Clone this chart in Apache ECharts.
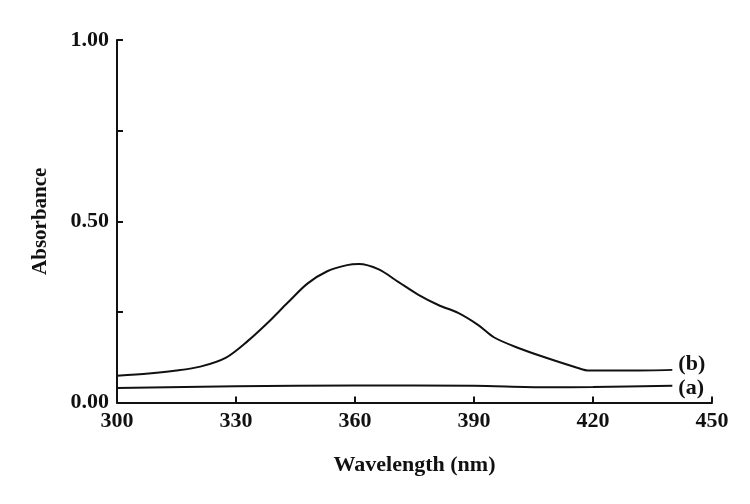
<!DOCTYPE html>
<html>
<head>
<meta charset="utf-8">
<script src="https://cdn.jsdelivr.net/npm/echarts@6/dist/echarts.min.js"></script>
<style>
    html, body { margin: 0; padding: 0; background: #fff; }
    #chart { width: 750px; height: 504px; }
</style>
</head>
<body>
<div id="chart"></div>
<script>
// 曲线 (b)
const wavelengthB = [300, 308, 315, 321, 327.5, 333, 338, 343, 348, 353, 358, 361, 366, 371, 376, 381, 386, 391, 395, 401, 408, 416, 419, 430, 440];
const absorbanceB = [0.074, 0.080, 0.088, 0.099, 0.124, 0.170, 0.220, 0.275, 0.328, 0.362, 0.379, 0.382, 0.367, 0.332, 0.297, 0.269, 0.247, 0.214, 0.180, 0.151, 0.124, 0.096, 0.088, 0.088, 0.090];
// 曲线 (a)
const wavelengthA = [300, 330, 360, 390, 408, 420, 440];
const absorbanceA = [0.040, 0.045, 0.047, 0.046, 0.042, 0.043, 0.046];
const seriesNames = ['(b)', '(a)'];

const font = 'Liberation Serif';
const chart = echarts.init(document.getElementById('chart'));

function pairs(xs, ys) {
    return xs.map((x, i) => [x, ys[i]]);
}

const lineStyle = { color: '#111', width: 2 };
function endLabel(dy) {
    return {
        show: true,
        formatter: '{a}',
        color: '#111',
        fontFamily: font,
        fontWeight: 'bold',
        fontSize: 22,
        distance: 6,
        offset: [0, dy]
    };
}

const option = {
    backgroundColor: '#fff',
    animation: false,
    grid: { left: 117, top: 40, right: 38, bottom: 101.5 },
    xAxis: {
        type: 'value',
        min: 300,
        max: 450,
        interval: 30,
        name: 'Wavelength (nm)',
        nameLocation: 'middle',
        nameGap: 52,
        nameTextStyle: { color: '#111', fontFamily: font, fontWeight: 'bold', fontSize: 22 },
        axisLine: { lineStyle: { color: '#111', width: 2 } },
        axisTick: { inside: true, length: 6, lineStyle: { color: '#111', width: 2 } },
        axisLabel: { color: '#111', fontFamily: font, fontWeight: 'bold', fontSize: 22, margin: 8 },
        splitLine: { show: false }
    },
    yAxis: {
        type: 'value',
        min: 0,
        max: 1,
        interval: 0.25,
        name: 'Absorbance',
        nameLocation: 'middle',
        nameGap: 66,
        nameTextStyle: { color: '#111', fontFamily: font, fontWeight: 'bold', fontSize: 21 },
        axisLine: { show: true, lineStyle: { color: '#111', width: 2 } },
        axisTick: { show: true, inside: true, length: 6, lineStyle: { color: '#111', width: 2 } },
        axisLabel: {
            color: '#111', fontFamily: font, fontWeight: 'bold', fontSize: 22, margin: 8,
            formatter: v => (Math.round(v * 100) % 50 === 0 ? v.toFixed(2) : '')
        },
        splitLine: { show: false }
    },
    series: [
        {
            name: seriesNames[0],
            type: 'line',
            data: pairs(wavelengthB, absorbanceB),
            smooth: 0.3,
            showSymbol: false,
            lineStyle: lineStyle,
            endLabel: endLabel(-6)
        },
        {
            name: seriesNames[1],
            type: 'line',
            data: pairs(wavelengthA, absorbanceA),
            smooth: 0.3,
            showSymbol: false,
            lineStyle: lineStyle,
            endLabel: endLabel(2)
        }
    ]
};
chart.setOption(option);
</script>
</body>
</html>
